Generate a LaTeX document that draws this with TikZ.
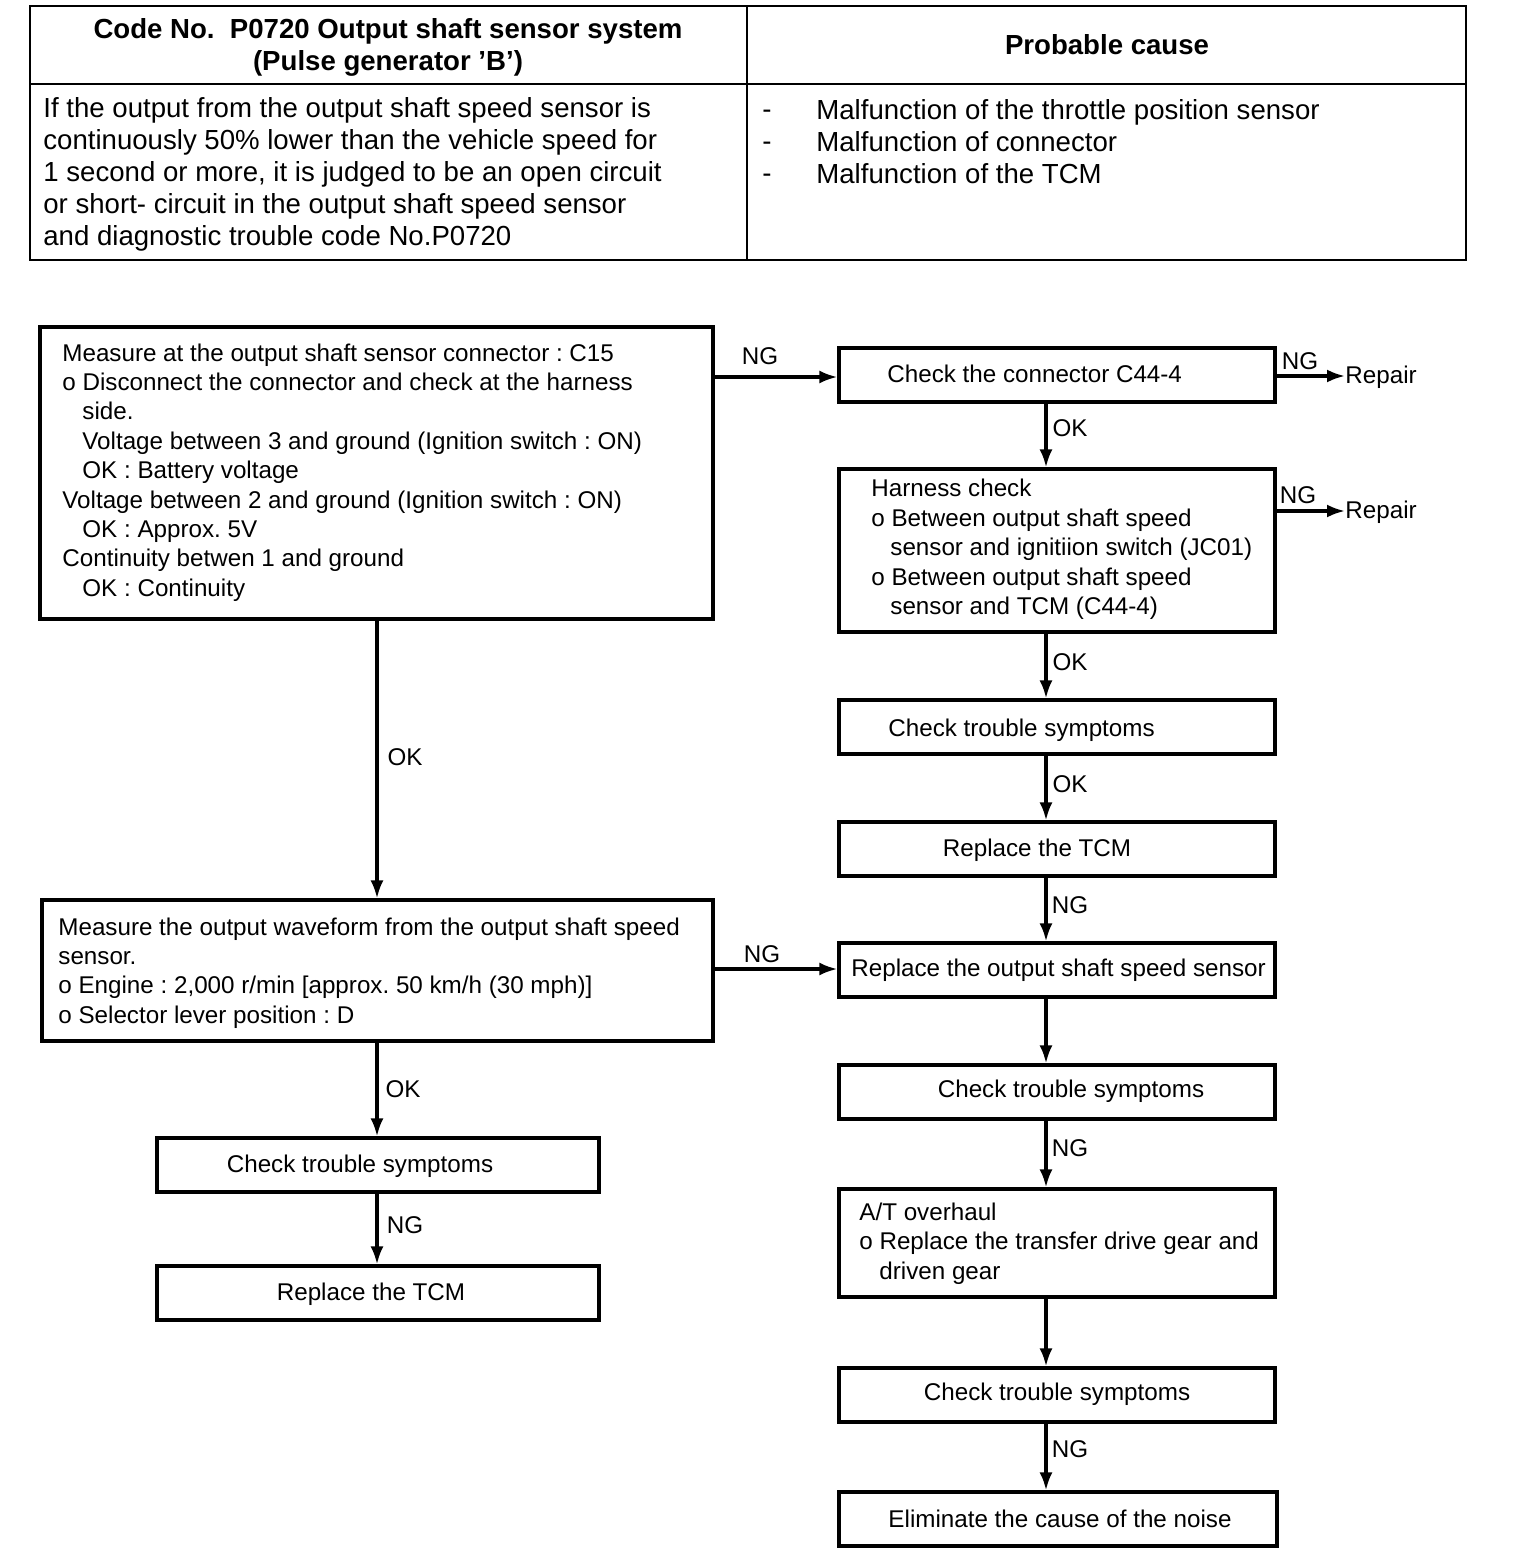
\documentclass[tikz,border=0pt]{standalone}
\usepackage{fontspec}
\setmainfont{Liberation Sans}
\usetikzlibrary{arrows.meta}
\frenchspacing
\begin{document}
\begin{tikzpicture}[x=0.5pt,y=-0.5pt,
  box/.style 2 args={draw,line width=1.6pt,minimum width=#1*0.5pt,minimum height=#2*0.5pt,inner sep=0pt},
  tline/.style={line width=1.3pt},
  txt/.style={inner sep=0pt,align=left,font=\fontsize{12.1}{14.7}\selectfont\frenchspacing},
  ttxt/.style={inner sep=0pt,align=left,font=\fontsize{13.8}{16}\selectfont\frenchspacing},
  hd/.style={inner sep=0pt,align=center,font=\fontsize{13.8}{16}\selectfont\bfseries\frenchspacing},
  lbl/.style={inner sep=0pt,font=\fontsize{12.1}{14}\selectfont},
  arr/.style={line width=1.6pt,-{Latex[length=9pt,width=6.5pt]}}]
\useasboundingbox (0,0) rectangle (1536,1562);
% ---------- top table ----------
\draw[tline] (30,6) rectangle (1466,260);
\draw[tline] (747,6) -- (747,260);
\draw[tline] (30,84) -- (1466,84);
\node[hd] (h1) at (388,47) {Code No.\ \ P0720 Output shaft sensor system\\(Pulse generator 'B')};
\node[hd] (h2) at (1107,45) {Probable cause};
\node[ttxt,anchor=west] (desc) at (43,174) {If the output from the output shaft speed sensor is\\continuously 50\% lower than the vehicle speed for\\1 second or more, it is judged to be an open circuit\\or short- circuit in the output shaft speed sensor\\and diagnostic trouble code No.P0720};
\node[ttxt,anchor=west] (dash) at (762,146) {-\\-\\-};
\node[ttxt,anchor=west] (cause) at (816,142) {Malfunction of the throttle position sensor\\Malfunction of connector\\Malfunction of the TCM};
% ---------- boxes ----------
\node[box={673}{292}] (b1) at (376.5,473) {};
\node[txt,anchor=west] (t1) at (62,472.5) {Measure at the output shaft sensor connector : C15\\o Disconnect the connector and check at the harness\\\hspace*{10pt}side.\\\hspace*{10pt}Voltage between 3 and ground (Ignition switch : ON)\\\hspace*{10pt}OK : Battery voltage\\Voltage between 2 and ground (Ignition switch : ON)\\\hspace*{10pt}OK : Approx. 5V\\Continuity betwen 1 and ground\\\hspace*{10pt}OK : Continuity};
\node[box={436}{54}] (b2) at (1057,375) {};
\node[txt,anchor=west] at (887,374) {Check the connector C44-4};
\node[box={436}{163}] (b3) at (1057,550.5) {};
\node[txt,anchor=west] at (871,549.5) {Harness check\\o Between output shaft speed\\\hspace*{9.5pt}sensor and ignitiion switch (JC01)\\o Between output shaft speed\\\hspace*{9.5pt}sensor and TCM (C44-4)};
\node[box={436}{54}] (b4) at (1057,727) {};
\node[txt,anchor=west] at (888,730) {Check trouble symptoms};
\node[box={436}{54}] (b5) at (1057,849) {};
\node[txt] at (1037,850) {Replace the TCM};
\node[box={436}{54}] (b6) at (1057,970) {};
\node[txt,anchor=west] at (851,970) {Replace the output shaft speed sensor};
\node[box={436}{54}] (b7) at (1057,1092) {};
\node[txt] at (1071,1091) {Check trouble symptoms};
\node[box={436}{108}] (b8) at (1057,1243) {};
\node[txt,anchor=west] at (859,1243.5) {A/T overhaul\\o Replace the transfer drive gear and\\\hspace*{10pt}driven gear};
\node[box={436}{54}] (b9) at (1057,1395) {};
\node[txt] at (1057,1394) {Check trouble symptoms};
\node[box={438}{54}] (b10) at (1058,1519) {};
\node[txt] at (1060,1519) {Eliminate the cause of the noise};
\node[box={671}{141}] (b11) at (377.5,970.5) {};
\node[txt,anchor=west] at (58,973) {Measure the output waveform from the output shaft speed\\sensor.\\o Engine : 2,000 r/min [approx. 50 km/h (30 mph)]\\o Selector lever position : D};
\node[box={442}{54}] (b12) at (378,1165) {};
\node[txt] at (360,1166) {Check trouble symptoms};
\node[box={442}{54}] (b13) at (378,1293) {};
\node[txt] at (371,1294) {Replace the TCM};
% ---------- repair ends ----------
\coordinate (r1) at (1345,376);
\coordinate (r2) at (1345,511);
\node[txt,anchor=west] (rep1) at (1345,377) {Repair};
\node[txt,anchor=west] (rep2) at (1345,512) {Repair};
% ---------- connectors ----------
\draw[arr] (b1.east |- 0,377) -- (b2.west |- 0,377);
\node[lbl] at (760,356) {NG};
\draw[arr] (b2.east |- 0,376) -- (r1);
\node[lbl] at (1300,361) {NG};
\draw[arr] (b3.east |- 0,511) -- (r2);
\node[lbl] at (1298,495) {NG};
\draw[arr] (1046,402) coordinate (a) -- (a |- b3.north);
\node[lbl] at (1070,428) {OK};
\draw[arr] (1046,632) coordinate (a) -- (a |- b4.north);
\node[lbl] at (1070,662) {OK};
\draw[arr] (1046,754) coordinate (a) -- (a |- b5.north);
\node[lbl] at (1070,784) {OK};
\draw[arr] (1046,876) coordinate (a) -- (a |- b6.north);
\node[lbl] at (1070,905) {NG};
\draw[arr] (1046,997) coordinate (a) -- (a |- b7.north);
\draw[arr] (1046,1119) coordinate (a) -- (a |- b8.north);
\node[lbl] at (1070,1148) {NG};
\draw[arr] (1046,1297) coordinate (a) -- (a |- b9.north);
\draw[arr] (1046,1422) coordinate (a) -- (a |- b10.north);
\node[lbl] at (1070,1449) {NG};
\draw[arr] (377,619) coordinate (a) -- (a |- b11.north);
\node[lbl] at (405,757) {OK};
\draw[arr] (b11.east |- 0,969) -- (b6.west |- 0,969);
\node[lbl] at (762,954) {NG};
\draw[arr] (377,1041) coordinate (a) -- (a |- b12.north);
\node[lbl] at (403,1089) {OK};
\draw[arr] (377,1192) coordinate (a) -- (a |- b13.north);
\node[lbl] at (405,1225) {NG};
\end{tikzpicture}
\end{document}
